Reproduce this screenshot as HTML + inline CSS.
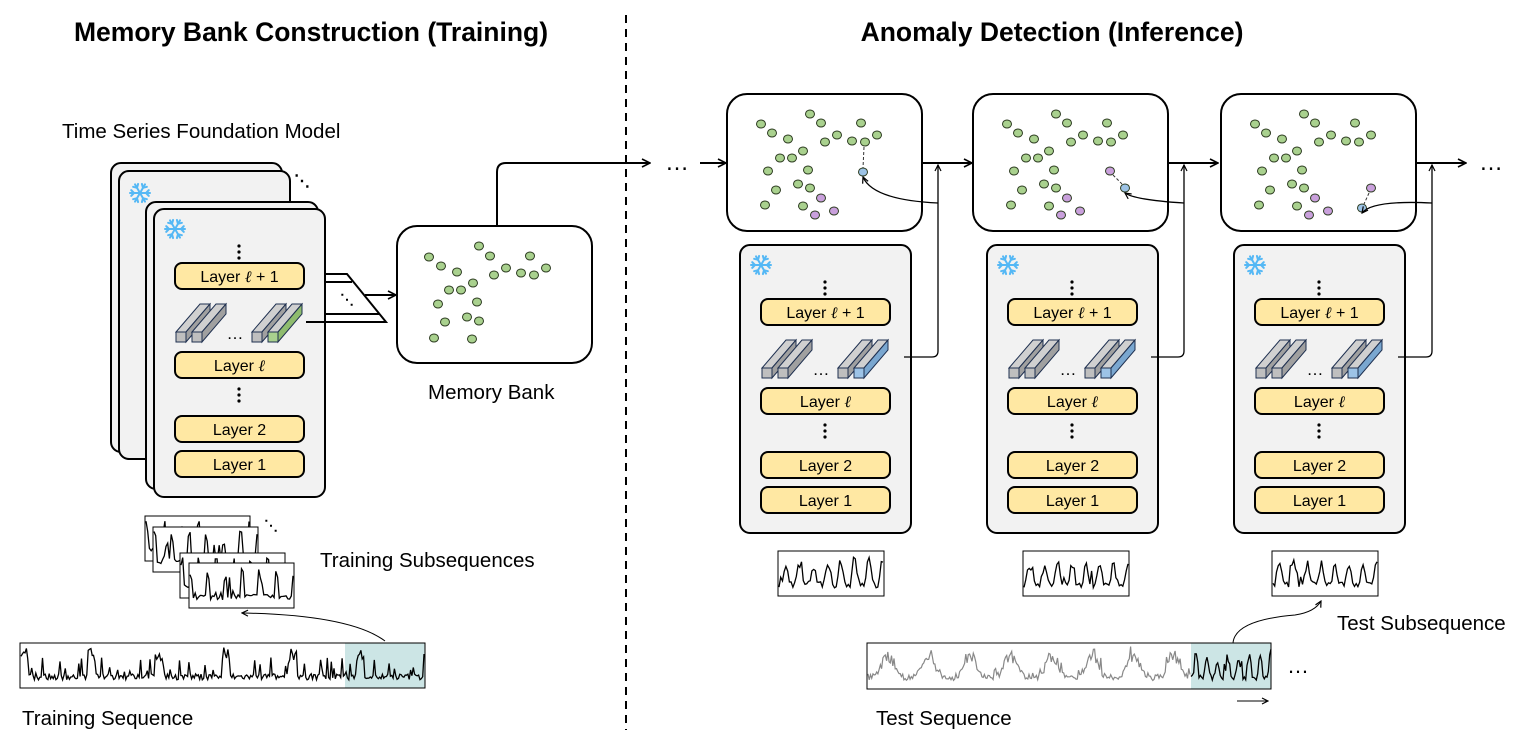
<!DOCTYPE html>
<html><head><meta charset="utf-8"><style>
html,body{margin:0;padding:0;background:#fff;width:1534px;height:746px;overflow:hidden}
svg text{font-family:"Liberation Sans",sans-serif}
</style></head><body>
<svg id="s" width="1534" height="746" viewBox="0 0 1534 746" xmlns="http://www.w3.org/2000/svg">
<defs>
<marker id="ar" markerWidth="10" markerHeight="10" refX="9" refY="5" orient="auto" markerUnits="userSpaceOnUse"><path d="M1,1 L9,5 L1,9" fill="none" stroke="#000" stroke-width="1.6"/></marker>
<marker id="as" markerWidth="8" markerHeight="8" refX="7" refY="4" orient="auto" markerUnits="userSpaceOnUse"><path d="M1,1 L7,4 L1,7" fill="none" stroke="#000" stroke-width="1.2"/></marker>
</defs>
<text x="311" y="41" text-anchor="middle" font-size="26.5" font-weight="bold">Memory Bank Construction (Training)</text>
<text x="1052" y="41" text-anchor="middle" font-size="26.5" font-weight="bold">Anomaly Detection (Inference)</text>
<line x1="626" y1="15" x2="626" y2="730" stroke="#000" stroke-width="2" stroke-dasharray="8,6"/>
<text x="62" y="138" font-size="20.5">Time Series Foundation Model</text>
<text x="428" y="399" font-size="20.5">Memory Bank</text>
<text x="320" y="567" font-size="20.5">Training Subsequences</text>
<text x="22" y="725" font-size="20.5">Training Sequence</text>
<text x="876" y="725" font-size="20.5">Test Sequence</text>
<text x="1337" y="630" font-size="20.5">Test Subsequence</text>
<g id="g"></g>
</svg>
<script>
var g=document.getElementById('g');var h='';
function A(s){h+=s;}
var seed=7;function rnd(){seed=(seed*16807)%2147483647;return seed/2147483647;}
function card(x,y,w,hh){A('<rect x="'+x+'" y="'+y+'" width="'+w+'" height="'+hh+'" rx="10" fill="#f2f2f2" stroke="#000" stroke-width="2"/>');}
function layer(x,y,t){A('<rect x="'+x+'" y="'+y+'" width="129" height="26" rx="7" fill="#ffe8a3" stroke="#000" stroke-width="2"/><text x="'+(x+64.5)+'" y="'+(y+19)+'" text-anchor="middle" font-size="16">'+t+'</text>');}
function vdots(x,y){for(var i=0;i<3;i++)A('<circle cx="'+x+'" cy="'+(y+i*6)+'" r="1.6" fill="#000"/>');}
function snow(x,y){var s='';for(var i=0;i<6;i++){var a=i*Math.PI/3,c=Math.cos(a),d=Math.sin(a);s+='<line x1="'+x+'" y1="'+y+'" x2="'+(x+10*c)+'" y2="'+(y+10*d)+'"/>';var bx=x+6*c,by=y+6*d;for(var k=-1;k<=1;k+=2){var b=a+k*0.8;s+='<line x1="'+bx+'" y1="'+by+'" x2="'+(bx+4*Math.cos(b))+'" y2="'+(by+4*Math.sin(b))+'"/>';}}A('<g stroke="#55b8f5" stroke-width="2" stroke-linecap="round">'+s+'</g>');}
function bar(x,y,fc){var dx=24,dy=-28,w=10,hh=10;
A('<polygon points="'+x+','+(y-hh)+' '+(x+dx)+','+(y-hh+dy)+' '+(x+w+dx)+','+(y-hh+dy)+' '+(x+w)+','+(y-hh)+'" fill="#d0d0d0" stroke="#1f3050" stroke-width="1"/>');
A('<polygon points="'+(x+w)+','+(y-hh)+' '+(x+w+dx)+','+(y-hh+dy)+' '+(x+w+dx)+','+(y+dy)+' '+(x+w)+','+y+'" fill="'+fc[1]+'" stroke="#1f3050" stroke-width="1"/>');
A('<rect x="'+x+'" y="'+(y-hh)+'" width="'+w+'" height="'+hh+'" fill="'+fc[0]+'" stroke="#1f3050" stroke-width="1"/>');}
var gray=['#bfbfbf','#a0a0a0'];
function bars(x,y,c){bar(x,y,gray);bar(x+16,y,gray);A('<text x="'+(x+59)+'" y="'+(y-3)+'" text-anchor="middle" font-size="17">…</text>');bar(x+76,y,gray);bar(x+92,y,c);}
function model(x,y,c){card(x,y,171,288);snow(x+21,y+20);vdots(x+85,y+37);layer(x+21,y+54,'Layer <tspan font-family="Liberation Serif" font-style="italic">ℓ</tspan> + 1');bars(x+22,y+133,c);layer(x+21,y+143,'Layer <tspan font-family="Liberation Serif" font-style="italic">ℓ</tspan>');vdots(x+85,y+180);layer(x+21,y+207,'Layer 2');layer(x+21,y+242,'Layer 1');}
card(111,163,171,289);card(119,171,171,288);snow(140,193);
A('<text x="294" y="186" font-size="16" font-weight="bold">⋱</text>');
card(146,202,172,287);model(154,209,['#a9d18e','#8fbc6e']);
A('<path d="M325,274 H347 L386,322 H325 M325,282 H352 M325,314 H380" fill="none" stroke="#000" stroke-width="2"/>');
A('<path d="M306,322 H386" stroke="#000" stroke-width="2"/>');
A('<text x="340" y="304" font-size="14" font-weight="bold">⋱</text>');
A('<line x1="365" y1="295" x2="396" y2="295" stroke="#000" stroke-width="2" marker-end="url(#ar)"/>');
A('<rect x="397" y="226" width="195" height="137" rx="20" fill="#fff" stroke="#000" stroke-width="2"/>');
function dot(x,y,c){A('<ellipse cx="'+x+'" cy="'+y+'" rx="4.5" ry="4" fill="'+c+'" stroke="#2b3a1f" stroke-width="1"/>');}
var G='#a9d18e',P='#c9a0dc',B='#9dc3e6';
[[429,257],[441,266],[457,272],[479,246],[490,256],[494,275],[506,268],[521,273],[530,256],[534,275],[546,268],[449,290],[461,290],[473,283],[438,304],[477,302],[445,322],[467,317],[479,321],[434,338],[472,339]].forEach(function(p){dot(p[0],p[1],G);});
A('<path d="M497,226 V172 Q497,163 506,163 H650" fill="none" stroke="#000" stroke-width="2" marker-end="url(#ar)"/>');
A('<text x="677" y="170" text-anchor="middle" font-size="24">…</text>');
A('<line x1="700" y1="163" x2="726" y2="163" stroke="#000" stroke-width="2" marker-end="url(#ar)"/>');
var base=[[34,124],[45,133],[61,139],[83,114],[94,123],[98,142],[110,135],[125,141],[134,123],[138,142],[150,135],[53,158],[65,158],[76,151],[41,171],[81,170],[49,190],[71,184],[83,188],[38,205],[76,206]];
var pur=[[94,198],[88,215],[107,211]];
var panels=[{x:727,m:740,extra:function(o){A('<line x1="'+(o+137)+'" y1="147" x2="'+(o+136)+'" y2="168" stroke="#333" stroke-dasharray="3,2"/>');dot(o+136,172,B);return [o+136,177];}},
{x:973,m:987,extra:function(o){dot(o+137,171,P);A('<line x1="'+(o+140)+'" y1="175" x2="'+(o+149)+'" y2="184" stroke="#333" stroke-dasharray="3,2"/>');dot(o+152,188,B);return [o+152,193];}},
{x:1221,m:1234,extra:function(o){dot(o+150,188,P);A('<line x1="'+(o+148)+'" y1="193" x2="'+(o+143)+'" y2="204" stroke="#333" stroke-dasharray="3,2"/>');dot(o+141,208,B);return [o+141,213];}}];
panels.forEach(function(p,i){var o=p.x;
A('<rect x="'+o+'" y="94" width="195" height="137" rx="20" fill="#fff" stroke="#000" stroke-width="2"/>');
base.forEach(function(d){dot(o+d[0],d[1],G);});pur.forEach(function(d){dot(o+d[0],d[1],P);});
var t=p.extra(o);
model(p.m,245,['#9dc3e6','#7aa7d0']);
var vx=o+211;
A('<path d="M'+(p.m+164)+',357 H'+(vx-6)+' Q'+vx+',357 '+vx+',351 V165" fill="none" stroke="#000" stroke-width="1.3" marker-end="url(#as)"/>');
A('<path d="M'+vx+',203 Q'+(t[0]+10)+',200 '+t[0]+','+t[1]+'" fill="none" stroke="#000" stroke-width="1.3" marker-end="url(#as)"/>');
A('<line x1="'+(o+195)+'" y1="163" x2="'+(o+245)+'" y2="163" stroke="#000" stroke-width="2" marker-end="url(#ar)"/>');
});
A('<text x="1491" y="170" text-anchor="middle" font-size="24">…</text>');
function sig(x,y,w,hh,n,col,sw,peaky){var pts=[];var per=n/(peaky?6:8);for(var i=0;i<=n;i++){var v=0.15+0.15*rnd();var ph=(i%Math.round(per))/per;if(peaky){if(ph<0.12)v=0.6+0.35*rnd();else if(rnd()<0.15)v=0.3+0.4*rnd();}else{v=0.15+0.65*Math.pow(Math.sin(Math.PI*ph),4)*(0.6+0.4*rnd())+0.15*rnd();if(rnd()<0.1)v+=0.3*rnd();}
pts.push((x+i*w/n).toFixed(1)+','+(y+hh-v*hh).toFixed(1));}
A('<polyline points="'+pts.join(' ')+'" fill="none" stroke="'+col+'" stroke-width="'+sw+'"/>');}
function sbox(x,y,w,hh,peaky){A('<rect x="'+x+'" y="'+y+'" width="'+w+'" height="'+hh+'" fill="#fff" stroke="#000" stroke-width="1"/>');sig(x+1,y+2,w-2,hh-4,60,'#000',1.3,peaky);}
[[145,516],[153,527],[180,553],[189,563]].forEach(function(p,i){sbox(p[0],p[1],105,45,true);});
A('<text x="264" y="530" font-size="14" font-weight="bold">⋱</text>');
sbox(778,551,106,45,false);sbox(1023,551,106,45,false);sbox(1272,551,106,45,false);
A('<rect x="345" y="643" width="80" height="45" fill="#cce5e5"/>');
A('<rect x="20" y="643" width="405" height="45" fill="none" stroke="#000" stroke-width="1"/>');
sig(21,645,403,41,300,'#000',1.3,true);
A('<path d="M385,641 Q350,615 242,613" fill="none" stroke="#000" stroke-width="1" marker-end="url(#as)"/>');
A('<rect x="1191" y="643" width="80" height="46" fill="#cce5e5"/>');
A('<rect x="867" y="643" width="404" height="46" fill="none" stroke="#000" stroke-width="1"/>');
sig(868,645,322,42,260,'#888',1.2,false);sig(1191,645,80,42,60,'#000',1.3,false);
A('<text x="1298" y="673" text-anchor="middle" font-size="22">…</text>');
A('<path d="M1233,643 Q1235,620 1295,615 Q1315,612 1321,601" fill="none" stroke="#000" stroke-width="1" marker-end="url(#as)"/>');
A('<line x1="1237" y1="701" x2="1268" y2="701" stroke="#000" stroke-width="1" marker-end="url(#as)"/>');
g.innerHTML=h;
</script>
</body></html>
